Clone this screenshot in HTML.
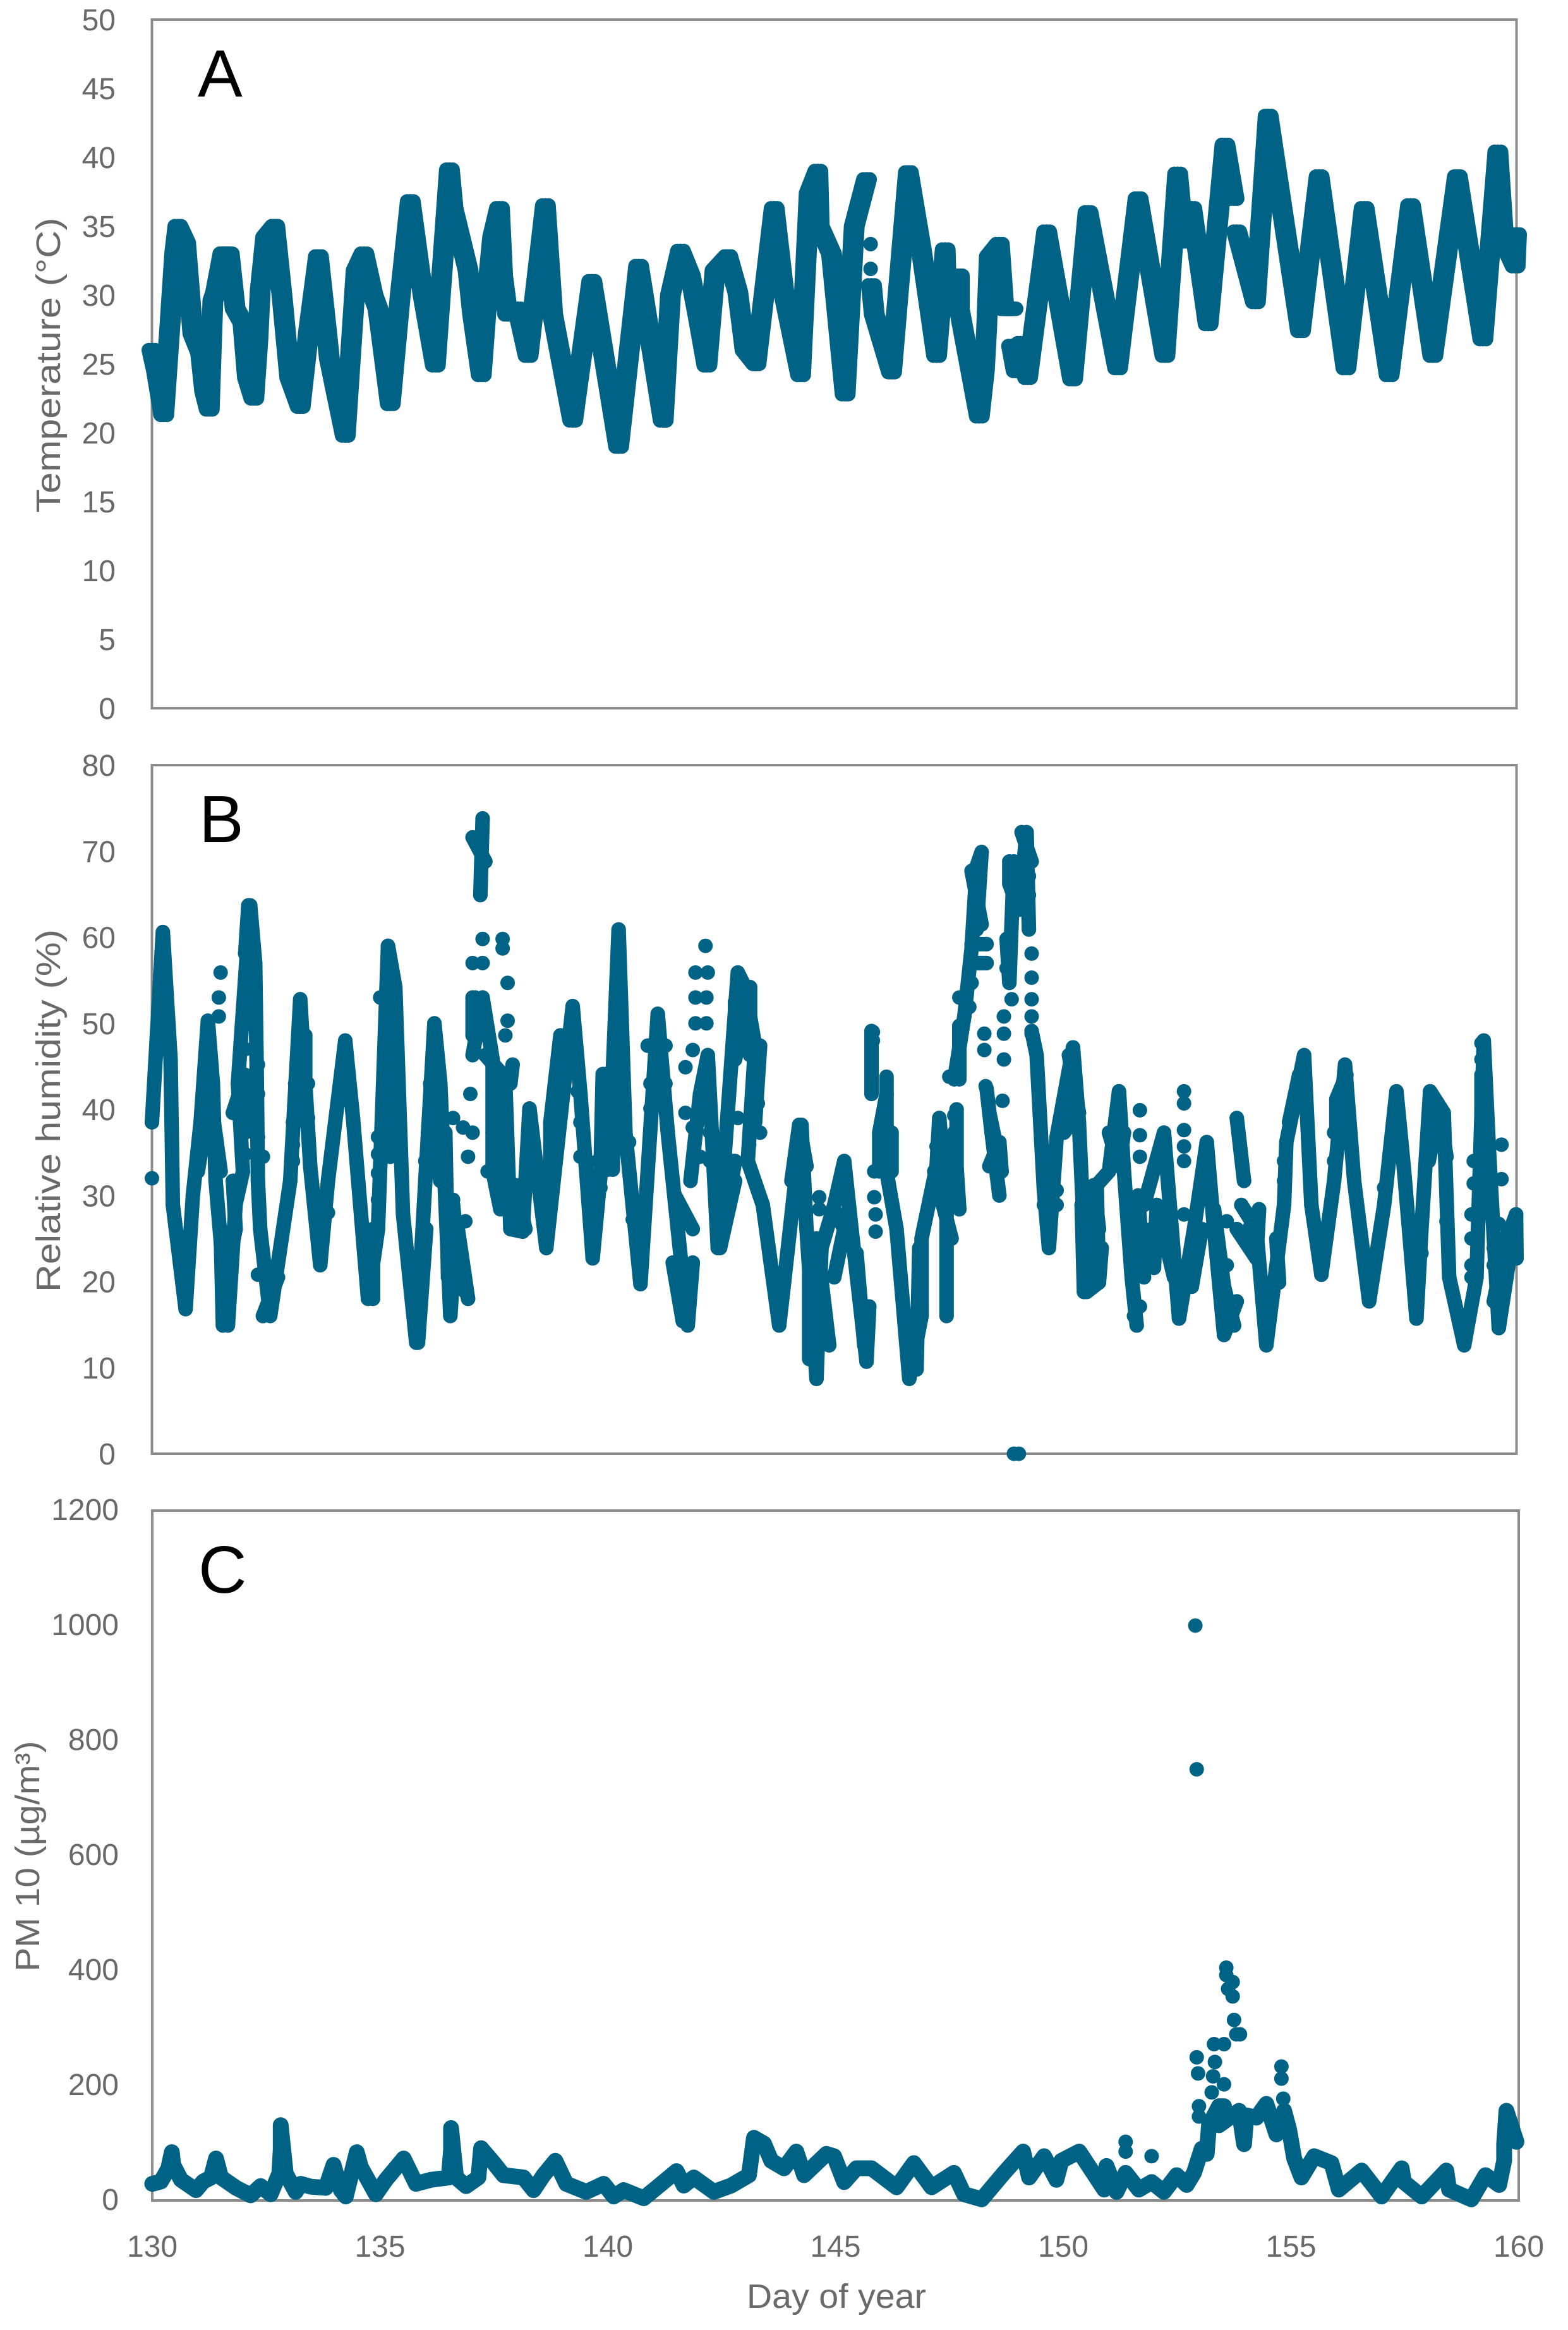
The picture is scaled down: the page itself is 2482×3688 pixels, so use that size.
<!DOCTYPE html>
<html lang="en">
<head>
<meta charset="utf-8">
<title>Temperature, humidity and PM10 by day of year</title>
<style>
html,body{margin:0;padding:0;background:#fff;}
svg{display:block;}
text{font-family:"Liberation Sans",sans-serif;fill:#696969;}
.letter{fill:#000;font-size:106px;}
</style>
</head>
<body>
<svg id="chart" xmlns="http://www.w3.org/2000/svg" width="2482" height="3688" viewBox="0 0 2482 3688">
<rect x="0" y="0" width="2482" height="3688" fill="#fff"/>
<rect x="240.5" y="31" width="2160" height="1090" fill="none" stroke="#8c8c8c" stroke-width="4"/>
<rect x="240.5" y="1211" width="2160" height="1090" fill="none" stroke="#8c8c8c" stroke-width="4"/>
<rect x="241" y="2391" width="2163" height="1092" fill="none" stroke="#8c8c8c" stroke-width="4"/>
<text class="letter" x="313" y="153">A</text>
<text class="letter" x="315" y="1333">B</text>
<text class="letter" x="314" y="2521">C</text>
<text font-size="54" text-anchor="middle" transform="translate(95,578) rotate(-90)" textLength="467" lengthAdjust="spacingAndGlyphs">Temperature (°C)</text>
<text font-size="54" text-anchor="middle" transform="translate(95,1758) rotate(-90)" textLength="574" lengthAdjust="spacingAndGlyphs">Relative humidity (%)</text>
<text font-size="54" text-anchor="middle" transform="translate(62,2938) rotate(-90)" textLength="365" lengthAdjust="spacingAndGlyphs">PM 10 (µg/m³)</text>
<text font-size="54" text-anchor="middle" x="1324" y="3653" textLength="284" lengthAdjust="spacingAndGlyphs">Day of year</text>
<g id="ticks"></g>
<g id="marks"></g>
</svg>
<script>
const dayTicks=[130,135,140,145,150,155,160];
const tempTicks=[0,5,10,15,20,25,30,35,40,45,50];
const humidityTicks=[0,10,20,30,40,50,60,70,80];
const pmTicks=[0,200,400,600,800,1000,1200];

const tempDays=[130,130.1,130.26,130.4,130.5,130.57,130.74,130.9,131.07,131.16,131.26,131.34,131.4,131.56,131.7,131.83,132,132.1,132.24,132.33,132.38,132.5,132.7,132.87,133.03,133.26,133.45,133.66,133.85,133.9,134.25,134.49,134.66,134.86,134.97,135.24,135.46,135.68,135.96,136.23,136.54,136.62,136.95,137.05,137.24,137.38,137.49,137.64,137.71,137.82,138.04,138.27,138.65,138.81,139.25,139.67,140.26,140.7,141.24,141.4,141.62,141.84,142,142.2,142.38,142.66,142.88,143.04,143.28,143.68,143.9,144.26,144.45,144.64,144.67,144.94,145.24,145.44,145.71,145.72,145.82,145.88,146.26,146.63,146.92,147.25,147.44,147.47,147.75,147.75,148.19,148.3,148.35,148.41,148.63,148.73,148.93,148.93,148.9,149,149.1,149.25,149.67,150.24,150.58,151.23,151.68,152.27,152.55,152.69,152.86,153.22,153.59,153.79,153.8,153.85,154.26,154.54,155.25,155.66,156.25,156.65,157.2,157.67,158.16,158.7,159.26,159.59,159.72,159.97,160];
const tempValues=[26,24.5,21.3,28,33,35,33.8,27.2,25.8,23,21.7,29.6,30.2,33,33,29,28,24,22.5,26.8,30.3,34.2,35,29.6,24,21.9,27.5,32.8,27,25.4,19.8,31.8,33,30,29,22.1,30,36.8,30,24.9,39.1,36.3,31.8,28.6,24.2,30.4,34.2,36.3,31.4,28.6,29,25.6,36.5,28.6,20.9,31,19,32.1,20.9,30,33.2,31.4,28.6,24.9,31.8,32.8,30.2,26,25,36.3,30,24.2,37.4,39,35,33,22.8,35,38.4,null,30.7,28.6,24.4,38.9,33.2,25.6,33.3,29.6,31.4,29,21.2,24.5,27.5,32.8,33.7,29,29,null,26.3,24.5,26.5,24,34.6,23.9,36,24.7,37,25.6,38.8,33.9,36.3,27.9,40.9,37,null,34.6,29.5,43,27.4,38.6,24.7,36.3,24.2,36.5,25.6,38.6,26.8,40.4,33.9,32.1,34.4];
const tempExtraDays=[145.8,145.8];
const tempExtraValues=[33.7,31.9];

const humidityDays=[130,130.24,130.41,130.46,130.74,130.9,131.07,131.23,131.34,131.4,131.67,131.84,132,131.89,132.16,132.27,132.3,132.33,132.38,132.6,133.04,133.26,133.48,133.7,133.87,134.25,134.42,134.75,134.97,135.19,135.35,135.52,135.81,136.01,136.21,136.34,136.56,136.7,136.95,137,137.22,137.27,137.28,137.05,137.27,137.49,137.49,137.66,137.77,137.88,138.15,138.3,138.67,139.25,139.42,139.69,139.86,139.91,140.13,140.26,140.41,140.74,141.12,141.34,141.56,141.78,141.89,141.9,141.84,142.05,142.22,142.44,142.55,142.88,143.04,143.26,143.1,143.43,143.79,143.9,144.28,144.39,144.61,144.72,145,145.22,145.38,145.71,145.77,145.8,145.82,145.82,146,146.15,146.15,146.37,146.65,146.92,146.92,147.25,147.31,147.47,147.47,147.5,147.69,147.69,147.7,147.64,147.86,148.02,148.13,148.24,148.13,148.2,148.35,148.46,148.63,148.7,148.79,148.85,148.95,149.06,149.23,149.28,149.3,149.34,149.45,149.61,149.72,149.89,150.25,150.38,150.55,150.82,150.77,151.04,151.26,151.37,151.54,151.65,151.7,151.81,152.25,152.42,152.58,152.91,153.19,153.35,153.57,153.85,153.86,153.85,154.01,154.02,153.95,154.28,154.5,154.89,154.94,155.33,155.49,155.71,155.99,156.23,156.43,156.76,157.09,157.36,157.53,157.8,157.91,158.1,158.4,158.52,158.85,159.12,159.28,159.39,159.61,159.99,160];
const humidityValues=[38.5,60.6,45.8,28.9,16.8,30,38.5,50.3,43,31.7,14.9,29,32.8,43,63.7,57,45.8,31.7,26.1,16,31.7,52.8,33.4,21.9,31.7,48,39,18,26.1,59,54.2,27.8,12.9,31.7,50,43,16,27,18,null,64.9,73.8,null,46.3,53,45.8,32.8,28.4,43,26.1,25.8,40.1,23.9,52,41.8,22.7,32.3,44.1,44.1,60.9,37.3,19.7,51.1,37.3,26.1,14.9,22.2,null,31.7,41.8,46.3,23.9,31.7,55.9,54.2,47.4,34,28.9,14.9,20,38.2,26.1,8.7,23.9,28.9,34,26.1,10.7,17.1,null,49.1,41.8,null,43.5,32.8,26.1,8.7,16,25,33.4,39,28.9,16,null,40,28.9,null,43.5,50.8,58.7,68.2,69.9,60.9,null,42.4,37.3,30,null,59.8,54.7,68.8,63.2,72.2,60.9,null,49.1,46.3,30.6,23.9,36.8,47.2,38.5,18.8,19.9,31.2,32.8,42.1,32.8,20.5,14.9,null,28.9,37.3,26.1,15.7,26.1,36.2,26.1,13.8,17.7,null,39,31.7,null,28.9,26.1,12.6,28.9,36.2,46.3,28.9,20.8,31.7,45.2,31.7,17.7,28.9,42.1,32.8,15.7,26.1,42.1,39.6,20.5,12.6,20.5,48,35.7,14.6,27.8,22.7];
const humidityClusterDays=[131.01,131.18,131.29,131.51,0,131.51,131.56,0,131.78,131.84,131.62,0,131.78,132.05,132.05,0,132.12,132.05,0,132.44,132.77,0,133.15,133.37,133.37,0,134.86,134.86,0,135.02,135.3,135.24,0,135.85,136.03,0,136.12,136.34,0,136.45,136.51,0,136.51,136.89,136.73,136.62,0,137.05,137.33,0,137.05,137.05,0,137.33,137.88,137.93,0,137.55,137.55,0,137.99,138.21,0,138.76,138.76,138.98,0,140.02,140.02,0,140.18,140.13,0,140.9,141.29,0,141.5,141.89,0,141.45,141.67,0,142.27,142.82,142.49,142.82,0,142.82,142.82,143.15,143.15,0,143.15,143.37,143.26,0,144.06,144.23,144.39,0,144.45,144.45,0,144.61,144.89,144.67,0,145,145.22,145,0,145.49,145.66,0,146.15,145.99,145.99,0,146.26,146.26,0,146.87,146.81,0,147.64,147.75,0,147.2,147.58,0,148.41,148.68,148.63,148.41,0,147.75,147.75,0,148.02,148.24,0,148.02,148.35,0,148.02,148.35,0,148.85,148.85,149.06,0,149.12,149.34,0,150.05,150.05,150.38,150.16,0,150.44,150.49,0,150.88,150.82,0,150.71,150.82,0,151.04,151.26,151.37,0,151.59,151.81,151.68,0,151.98,152.03,152.09,152.47,0,152.69,152.86,153.08,0,153.35,153.57,153.79,0,153.85,154.28,154.34,154.12,0,154.72,154.78,0,155,155.22,0,156.04,156.04,156.26,0,158.07,158.3,158.46,0,159.23,159.23,0,159.72,159.99,0,159.5,159.83];
const humidityClusterValues=[32.8,38.5,41.3,32.8,null,26.1,14.9,null,31.7,26.1,20.5,null,39.6,44,37.3,null,63.7,58.1,null,16,20.5,null,43,48.6,38.5,null,26.1,18,null,53,53,34.5,null,12.9,26.1,null,43,31.7,null,37.3,20.5,null,23.3,18.8,23.3,28.9,null,71.6,68.8,null,53,48.6,null,46.3,43,45.2,null,38.5,34.5,null,31.2,26.1,null,31.7,38.5,48.6,null,43,33,null,44,33,null,47.4,47.4,null,30,26.1,null,22.2,15.4,null,34,34,23.9,31.7,null,52.5,45.8,54.2,46.3,null,47.4,47.4,38.5,null,31.7,38.2,33.4,null,23.9,11,null,25,12.6,14.9,null,20.5,26.1,28.4,null,23.3,12.6,null,41.8,37.3,32.8,null,37.3,32.8,null,23.9,9.8,null,37.3,28.4,null,32.8,25,null,39.6,32.8,36.2,33.4,null,49.7,43.5,null,67.7,61.5,null,59.2,59.2,null,57,57,null,68.8,66.2,63.2,null,72.2,68.8,null,40.7,37.3,39.6,46.3,null,28.9,18.8,null,23.9,19.9,null,31.2,26.1,null,37.3,33.4,37.3,null,26.1,20.5,30,null,26.1,21.6,28.9,20.5,null,20.5,19.4,26.1,null,28.4,19.4,14.9,null,26.1,22.7,28.4,26.1,null,25,19.9,null,38.5,44,null,37.3,41.2,44,null,34,40.1,34.5,null,44,37.3,null,23.9,27.8,null,17.7,26.1];
const humidityExtraDays=[130,131.51,131.47,131.47,132.05,131.95,131.95,131.78,132.05,132.05,132.33,132.33,132.33,132.33,132.44,133.1,133.1,133.43,133.43,133.1,133.87,134.97,134.97,134.97,134.97,136.01,136.01,136.07,136.62,136.84,137.05,136.95,136.89,136.62,137,137.27,137.71,137.71,137.82,137.05,137.27,137.11,137.77,137.82,137.38,137.49,137.77,137.77,137.99,139.36,139.42,139.42,139.86,139.8,140.13,140.02,140.49,140.49,140.57,140.96,141.29,140.96,141.29,141.73,141.89,141.95,142.22,141.95,142.19,141.95,142.19,142.17,141.89,142.27,141.73,142.05,142.88,143.13,143.15,143.37,142.93,143.32,143.32,144.67,144.67,145.85,145.85,146.15,145.91,145.91,145.88,145.88,146.9,146.92,147.53,147.31,147.64,147.25,148.3,148.3,148.73,148.73,148.33,148.7,148.79,148.9,148.73,149.34,149.34,149.34,149.34,149.34,148.08,148.24,148.08,148.02,147.75,147.97,149.28,149.28,149.89,149.61,149.89,151.72,151.72,151.72,152.69,152.69,152.69,152.69,152.69,152.69,153.63,153.63,151.21,151.59,151.72,155.99,155.99,154.89,154.89,157.09,157.91,157.89,158.46,159.01,159.01,159.01,159.01,159.06,159.06,159.67,159.67,159.5,159.5,159.61,159.23,159.23,159.23,148.95,149.06];
const humidityExtraValues=[32,55.9,53,50.8,47,43,37.9,39.6,37.3,34.8,20.8,45.2,41.8,36.8,34.5,35.9,34,43,39,38.5,28,36.8,34.8,32.6,29.5,32,34,37.3,39,37.9,37.3,34.5,27,29.5,41.8,59.8,59.8,58.7,54.7,57,57,53,48.6,50.3,32.8,37.3,32.8,37.9,31.2,42.1,38.5,34.5,30.9,34,39,36.2,36.2,32.8,27.2,43,43,40.1,40.1,44.9,46.9,55.9,55.9,53,53,50,50,59,37.9,37.3,39.6,34.5,39,35.9,39,37.3,48.6,46.3,40.7,29.8,28.4,49,48,43.8,27.8,25.8,32.8,29.8,19.9,16.8,43.8,39,39.3,35.7,48.8,46.9,48.8,45.8,42.7,41,56.4,52.8,50.8,58.1,55.3,52.8,50.8,48.8,57,57,59.2,54.7,53,51.9,64.9,67.1,30.6,28.9,28.9,39.9,37,34.5,42.1,40.7,37.6,35.7,34,27.8,27,21.9,35.7,16,17.1,37.3,34,34,31.7,30.9,23.3,24.4,27,21.9,20.5,25,27.8,34,31.4,35.9,31.9,21.9,23.9,26.7,47.7,45.8,35.7,0,0];

const pmDays=[130,130.19,130.35,130.43,130.46,130.63,130.96,131.12,131.29,131.4,131.51,131.84,132.16,132.38,132.6,132.79,132.82,132.82,132.93,133.15,133.26,133.48,133.81,133.98,134.14,134.25,134.49,134.58,134.91,135.13,135.52,135.79,136.12,136.51,136.56,136.56,136.67,136.89,137.16,137.22,137.49,137.71,138.15,138.37,138.59,138.85,139.09,139.53,139.91,140.13,140.35,140.79,141.07,141.51,141.67,141.89,142.33,142.71,143.1,143.21,143.43,143.59,143.87,144.14,144.31,144.8,144.97,145.19,145.46,145.79,146.34,146.72,147.11,147.6,147.82,148.21,148.7,149.12,149.25,149.58,149.85,149.96,150.35,150.9,150.95,151.17,151.37,151.66,151.94,152.21,152.49,152.71,152.87,153.04,153.15,153.2,153.42,153.53,153.42,153.86,153.97,154.02,154.24,154.46,154.68,154.85,154.96,155.07,155.23,155.51,155.89,156.05,156.55,156.99,157.43,157.48,157.87,158.41,158.47,158.96,159.27,159.57,159.68,159.68,159.73,159.95];
const pmValues=[29,33,55,84,62,36,18,33,40,73,40,22,9,25,11,47,88,131,47,15,29,24,22,62,18,7,84,58,11,36,73,29,36,40,88,126,40,25,40,91,66,44,40,18,44,69,29,15,29,7,18,4,22,51,26,40,15,26,44,109,99,69,56,85,44,81,77,32,56,56,23,65,23,48,11,2,48,85,40,77,36,69,85,19,60,15,48,19,32,15,44,27,48,90,81,131,164,164,131,156,98,148,144,168,115,156,123,73,40,77,65,19,52,7,56,32,7,52,19,2,44,27,69,98,156,102];
const pmExtraDays=[152.9,152.93,152.93,152.96,152.98,152.98,153.31,153.53,153.33,153.29,153.58,153.58,153.72,153.62,153.72,153.75,153.8,153.88,153.53,153.26,154.79,154.79,154.83,154.85,151.37,151.37,151.94];
const pmExtraValues=[1000,750,249,221,164,146,272,272,241,216,405,392,380,368,355,314,289,289,202,188,233,212,177,156,102,85,77];

const svgNS='http://www.w3.org/2000/svg';
const markColor='#006285';
const dotRadius=11.5;
const ticksGroup=document.getElementById('ticks');
const marksGroup=document.getElementById('marks');

function xAB(d){return 240.5+(d-130)*72;}
function xC(d){return 241+(d-130)*72.1;}
function yTemp(v){return 1121-v*21.8;}
function yHumidity(v){return 2301-v*13.625;}
function yPm(v){return 3483-v*0.91;}

function addDot(x,y,name){
  const c=document.createElementNS(svgNS,'circle');
  c.setAttribute('cx',x);
  c.setAttribute('cy',y);
  c.setAttribute('r',dotRadius);
  c.setAttribute('fill',markColor);
  
  
  marksGroup.appendChild(c);
}

function addTrace(pts,width,name){
  if(pts.length<2){return;}
  const line=document.createElementNS(svgNS,'polyline');
  line.setAttribute('points',pts.join(' '));
  line.setAttribute('fill','none');
  line.setAttribute('stroke',markColor);
  line.setAttribute('stroke-width',width);
  line.setAttribute('stroke-linejoin','round');
  line.setAttribute('stroke-linecap','round');
  
  
  marksGroup.appendChild(line);
}

function drawSeries(days,values,extraDays,extraValues,xf,yf,width,spread,name){
  let segment=[];
  function flush(){
    const offsets=spread>0?[-spread,0,spread]:[0];
    offsets.forEach(function(off){
      addTrace(segment.map(function(p){return (p[0]+off)+','+p[1];}),width,name+'-trace');
    });
    segment=[];
  }
  for(let i=0;i<values.length;i++){
    if(values[i]===null){flush();continue;}
    const x=xf(days[i]),y=yf(values[i]);
    segment.push([x,y]);
    addDot(x,y,name+'-point');
  }
  flush();
  for(let i=0;i<extraValues.length;i++){
    addDot(xf(extraDays[i]),yf(extraValues[i]),name+'-scatter-point');
  }
}

function addTick(x,y,label,anchor,name){
  const t=document.createElementNS(svgNS,'text');
  t.setAttribute('x',x);
  t.setAttribute('y',y);
  t.setAttribute('font-size','48');
  t.setAttribute('text-anchor',anchor);
  
  
  t.textContent=label;
  ticksGroup.appendChild(t);
}

tempTicks.forEach(function(v){addTick(183,yTemp(v)+17,v,'end','y-tick-temperature');});
humidityTicks.forEach(function(v){addTick(183,yHumidity(v)+17,v,'end','y-tick-humidity');});
pmTicks.forEach(function(v){addTick(188,yPm(v)+15,v,'end','y-tick-pm10');});
dayTicks.forEach(function(v){addTick(xC(v),3572,v,'middle','x-tick-day');});

drawSeries(tempDays,tempValues,tempExtraDays,tempExtraValues,xAB,yTemp,23,5,'temperature');
drawSeries(humidityDays,humidityValues,humidityExtraDays,humidityExtraValues,xAB,yHumidity,23,0,'humidity');
drawSeries(humidityClusterDays,humidityClusterValues,[],[],xAB,yHumidity,23,0,'humidity-cluster');
drawSeries(pmDays,pmValues,pmExtraDays,pmExtraValues,xC,yPm,25,0,'pm10');
</script>
</body>
</html>
